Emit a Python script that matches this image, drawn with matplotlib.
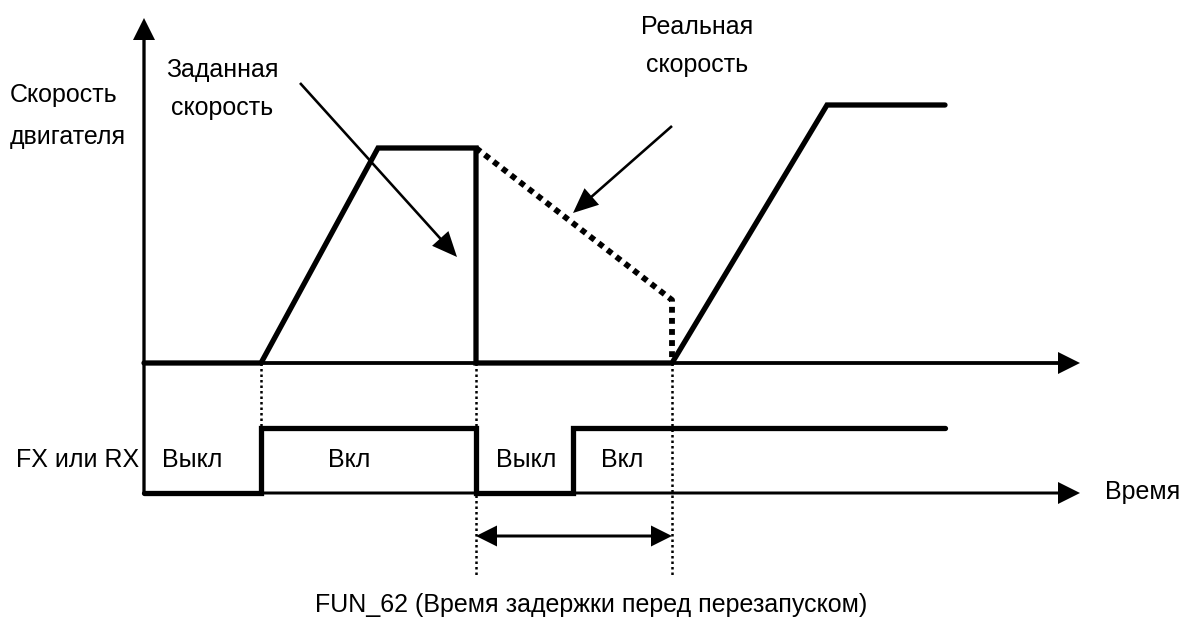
import matplotlib.pyplot as plt

plt.rcParams['font.family'] = ['Liberation Sans', 'DejaVu Sans']

# moments on the time axis (px-like units)
t_origin = 144
t_axis_end = 1080
t_set = [144, 261, 378, 476, 476, 672, 827, 945]
v_set = [0, 0, 215, 215, 0, 0, 258, 258]
t_real = [476, 672, 672]
v_real = [215, 63, 0]
t_fx = [144, 261, 261, 476, 476, 573, 573, 945]
fx = [0, 0, 1, 1, 0, 0, 1, 1]
t_guides = [261, 476, 672]
t_delay = [476, 672]
fx_labels = ['Выкл', 'Вкл', 'Выкл', 'Вкл']
fx_label_x = [192, 349, 526, 622]

# layout
speed0 = 363      # y of speed zero line
fx0 = 493         # y of FX low level
fx_amp = 65
k = 'black'

def sy(v):
    return speed0 - v

def fy(s):
    return fx0 - s * fx_amp

fig = plt.figure(figsize=(11.9, 6.24), dpi=100)
ax = fig.add_axes([0, 0, 1, 1])
ax.set_xlim(0, 1190)
ax.set_ylim(624, 0)
ax.axis('off')

# axes with arrowheads
ax.arrow(t_origin, fx0, 0, 18 - fx0, width=3.3, head_width=22, head_length=22,
         length_includes_head=True, fc=k, ec=k, lw=0)
ax.arrow(t_origin, speed0, t_axis_end - t_origin, 0, width=3.8, head_width=22,
         head_length=22, length_includes_head=True, fc=k, ec=k, lw=0)
ax.arrow(t_origin, fx0, t_axis_end - t_origin, 0, width=3.0, head_width=22,
         head_length=22, length_includes_head=True, fc=k, ec=k, lw=0)

# dotted guides
ax.plot([t_guides[0]] * 2, [speed0, fy(1)], color=k, lw=1.8, ls=(0, (1, 1.2)))
for t in t_guides[1:]:
    ax.plot([t, t], [speed0, 576], color=k, lw=1.8, ls=(0, (1, 1.2)))

# set speed
ax.plot(t_set, [sy(v) for v in v_set], color=k, lw=3.8,
        solid_capstyle='round', solid_joinstyle='miter')
# real speed
ax.plot(t_real, [sy(v) for v in v_real], color=k, lw=4.2,
        ls=(0, (1, 0.9)), dash_capstyle='butt')
# FX / RX signal
ax.plot(t_fx, [fy(s) for s in fx], color=k, lw=3.8,
        solid_capstyle='round', solid_joinstyle='miter')

# pointer arrows
ax.arrow(300, 83, 457 - 300, 257 - 83, width=2.6, head_width=22, head_length=25,
         length_includes_head=True, fc=k, ec=k, lw=0)
ax.arrow(672, 126, 573 - 672, 213 - 126, width=2.6, head_width=22, head_length=25,
         length_includes_head=True, fc=k, ec=k, lw=0)

# delay arrow
mid = (t_delay[0] + t_delay[1]) / 2
for end in t_delay:
    ax.arrow(mid, 536, end - mid, 0, width=3.0, head_width=21, head_length=21,
             length_includes_head=True, fc=k, ec=k, lw=0)

fs = 18
ax.text(10, 95, 'Скорость', fontsize=fs, ha='left', va='center')
ax.text(10, 137, 'двигателя', fontsize=fs, ha='left', va='center')
ax.text(222, 70, 'Заданная', fontsize=fs, ha='center', va='center')
ax.text(222, 108, 'скорость', fontsize=fs, ha='center', va='center')
ax.text(697, 27, 'Реальная', fontsize=fs, ha='center', va='center')
ax.text(697, 65, 'скорость', fontsize=fs, ha='center', va='center')
ax.text(139, 460, 'FX или RX', fontsize=fs, ha='right', va='center')
for lab, x in zip(fx_labels, fx_label_x):
    ax.text(x, 460, lab, fontsize=fs, ha='center', va='center')
ax.text(1105, 492, 'Время', fontsize=fs, ha='left', va='center')
ax.text(591, 605, 'FUN_62 (Время задержки перед перезапуском)', fontsize=fs,
        ha='center', va='center')

fig.savefig('out.png', dpi=100)
